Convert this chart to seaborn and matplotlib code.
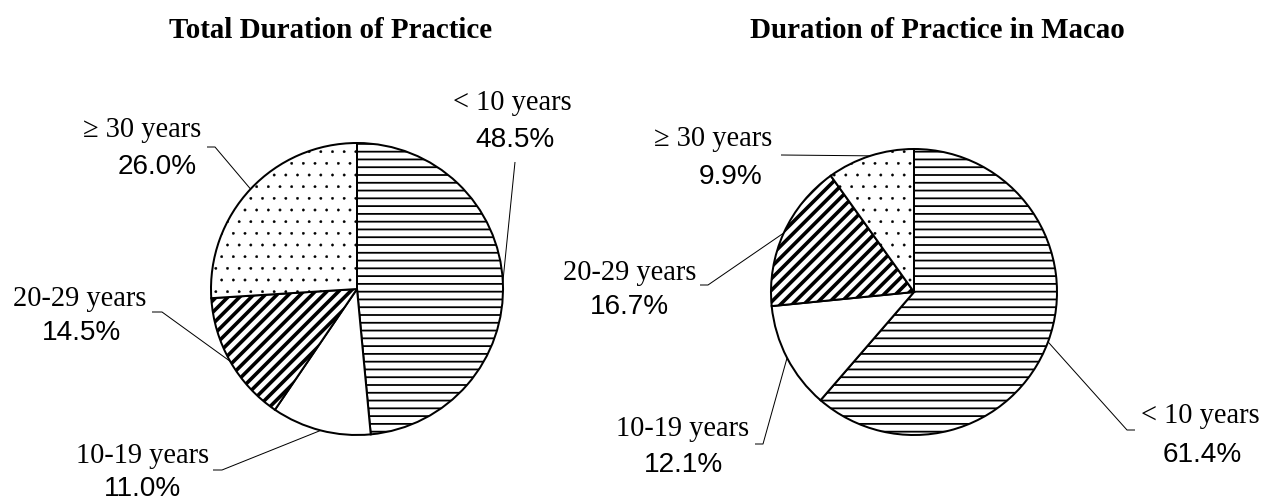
import numpy as np
import matplotlib
matplotlib.use("Agg")
import matplotlib.pyplot as plt
import seaborn as sns

# ---- data ----
categories = ["< 10 years", "10-19 years", "20-29 years", "\u2265 30 years"]
total_values = [48.5, 11.0, 14.5, 26.0]
macao_values = [61.4, 12.1, 16.7, 9.9]
titles = ["Total Duration of Practice", "Duration of Practice in Macao"]

# ---- style ----
sns.set_theme(style="white")
DPI = 140
W, H = 1266, 502


def px(v):
    """pixels -> points"""
    return v * 72.0 / DPI


plt.rcParams["hatch.linewidth"] = px(1.8)
SERIF = ["Liberation Serif", "DejaVu Serif"]
SANS = ["Liberation Sans", "DejaVu Sans"]

fig = plt.figure(figsize=(W / DPI, H / DPI), dpi=DPI)
ax = fig.add_axes([0, 0, 1, 1])


def P(x, y):
    return (x, H - y)


hatches = ["---", "", "////", ".."]
hatch_lw = [1.8, 1.0, 3.6, 0.4]

pies = [
    dict(values=total_values, center=(357, 289), r=146, title_xy=(331, 30),
         cat_xy=[(512, 103), (143, 456), (80, 299), (142, 130)],
         pct_xy=[(515, 140), (143, 489), (82, 333), (157, 167)],
         leader=[[(515, 162)], [(213, 470), (222, 470)], [(152, 312), (162, 312)],
                 [(207, 147), (215, 147)]]),
    dict(values=macao_values, center=(914, 292), r=143, title_xy=(937, 30),
         cat_xy=[(1200, 416), (683, 429), (630, 273), (713, 139)],
         pct_xy=[(1202, 455), (683, 465), (629, 307), (731, 177)],
         leader=[[(1135, 430), (1127, 430)], [(755, 444), (763, 444)],
                 [(700, 285), (708, 285)], [(781, 155)]]),
]

for i, p in enumerate(pies):
    wedges, _ = ax.pie(
        p["values"], startangle=90, counterclock=False,
        center=P(*p["center"]), radius=p["r"], hatch=hatches,
        colors=["white"] * len(p["values"]),
        wedgeprops=dict(edgecolor="black", linewidth=px(2.0)),
        frame=False,
    )
    for w, lw in zip(wedges, hatch_lw):
        if hasattr(w, "set_hatch_linewidth"):
            w.set_hatch_linewidth(px(lw))
    for j, w in enumerate(wedges):
        mid = np.deg2rad((w.theta1 + w.theta2) / 2.0)
        cx, cy = w.center
        ex, ey = cx + w.r * np.cos(mid), cy + w.r * np.sin(mid)
        pts = [P(*q) for q in p["leader"][j]] + [(ex, ey)]
        xs, ys = zip(*pts)
        ax.plot(xs, ys, color="black", lw=px(1.0), solid_capstyle="butt", zorder=3)
        ax.text(*P(*p["cat_xy"][j]), categories[j], ha="center", va="center",
                fontsize=px(28.5), family=SERIF, color="black")
        ax.text(*P(*p["pct_xy"][j]), f"{p['values'][j]:.1f}%", ha="center",
                va="center", fontsize=px(28), family=SANS, color="black")
    ax.text(*P(*p["title_xy"]), titles[i], ha="center", va="center",
            fontsize=px(29), family=SERIF, fontweight="bold", color="black")

ax.set_xlim(0, W)
ax.set_ylim(0, H)
ax.set_aspect("equal")
ax.axis("off")

fig.savefig("out.png", dpi=DPI, facecolor="white")
